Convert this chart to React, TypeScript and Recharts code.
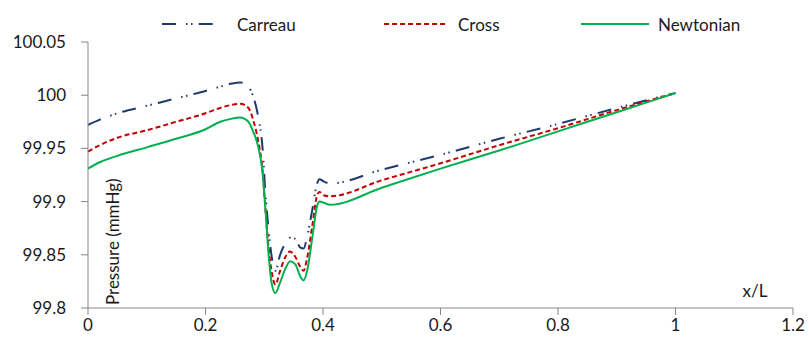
import { LineChart, Line, XAxis, YAxis, Legend, Label } from 'recharts';

// x/L positions along the vessel
const xValues = [0, 0.02, 0.05, 0.1, 0.15, 0.2, 0.225, 0.245, 0.259, 0.273, 0.281, 0.29, 0.297, 0.302, 0.307, 0.313, 0.319, 0.327, 0.336, 0.344, 0.353, 0.361, 0.367, 0.373, 0.382, 0.39, 0.394, 0.401, 0.412, 0.5, 0.6, 0.7, 0.8, 0.9, 1.0];

// pressure (mmHg) for each model
const carreau = [99.972, 99.977, 99.983, 99.99, 99.997, 100.004, 100.008, 100.011, 100.012, 100.008, 99.999, 99.979, 99.951, 99.908, 99.876, 99.847, 99.835, 99.85, 99.861, 99.866, 99.865, 99.857, 99.856, 99.867, 99.893, 99.917, 99.921, 99.919, 99.917, 99.93, 99.944, 99.959, 99.973, 99.988, 100.002];
const cross = [99.947, 99.953, 99.96, 99.967, 99.975, 99.983, 99.988, 99.991, 99.992, 99.988, 99.977, 99.956, 99.93, 99.893, 99.859, 99.833, 99.822, 99.835, 99.848, 99.853, 99.848, 99.839, 99.835, 99.847, 99.878, 99.906, 99.909, 99.906, 99.905, 99.92, 99.936, 99.953, 99.969, 99.986, 100.002];
const newtonian = [99.931, 99.937, 99.943, 99.951, 99.959, 99.968, 99.975, 99.978, 99.979, 99.975, 99.966, 99.951, 99.928, 99.893, 99.853, 99.822, 99.814, 99.824, 99.837, 99.844, 99.841, 99.83, 99.826, 99.835, 99.867, 99.896, 99.9, 99.899, 99.897, 99.913, 99.931, 99.948, 99.966, 99.984, 100.002];

const xTicks = [0, 0.2, 0.4, 0.6, 0.8, 1, 1.2];
const yTicks = [99.8, 99.85, 99.9, 99.95, 100, 100.05];

const data = xValues.map((x, i) => ({
  x,
  carreau: carreau[i],
  cross: cross[i],
  newtonian: newtonian[i],
}));

const font = 'Lato, "Open Sans", sans-serif';
const axisColor = '#868686';
const textColor = '#1a1a1a';

// legend placement (left edge of each sample line)
const legendLeft = [162, 384, 581];
const legendSample = [56, 64, 68];
const legendGap = [19, 10, 9];

function LegendContent(props: any) {
  const { payload } = props;
  return (
    <div style={{ position: 'relative', height: 24, fontFamily: font, fontSize: 17, color: textColor }}>
      {payload.map((entry: any, i: number) => (
        <div key={entry.value} style={{ position: 'absolute', left: legendLeft[i], top: 0, display: 'flex', alignItems: 'center', height: 24 }}>
          <svg width={legendSample[i]} height={6} style={{ marginRight: legendGap[i] }}>
            <line
              x1={0}
              y1={3}
              x2={legendSample[i]}
              y2={3}
              stroke={entry.color}
              strokeWidth={2}
              strokeDasharray={entry.payload?.strokeDasharray}
            />
          </svg>
          <span>{entry.value}</span>
        </div>
      ))}
    </div>
  );
}

function YTitle(props: any) {
  const { viewBox } = props;
  const x = viewBox.x + viewBox.width + 24;
  const y = viewBox.y + viewBox.height - 3;
  return (
    <text x={x} y={y} transform={`rotate(-90 ${x} ${y})`} textAnchor="start" dominantBaseline="central" fontFamily={font} fontSize={17} fill={textColor}>
      Pressure (mmHg)
    </text>
  );
}

function XTitle(props: any) {
  const { viewBox } = props;
  const x = viewBox.x + viewBox.width - 38;
  const y = viewBox.y - 18;
  return (
    <text x={x} y={y} textAnchor="middle" dominantBaseline="central" fontFamily={font} fontSize={17} fill={textColor}>
      x/L
    </text>
  );
}

export default function App() {
  return (
    <div style={{ position: 'absolute', left: 0, top: 0, background: '#fff' }}>
      <LineChart width={809} height={356} data={data} margin={{ top: 18, right: 16, bottom: 0, left: 0 }}>
        <XAxis
          dataKey="x"
          type="number"
          domain={[0, 1.2]}
          ticks={xTicks}
          height={48}
          tickSize={7}
          tickMargin={4}
          stroke={axisColor}
          tick={{ fill: textColor, fontFamily: font, fontSize: 17 }}
          tickFormatter={(v: number) => String(Number(v.toFixed(1)))}
        >
          <Label content={<XTitle />} />
        </XAxis>
        <YAxis
          type="number"
          domain={[99.8, 100.05]}
          ticks={yTicks}
          width={88}
          tickSize={7}
          tickMargin={15}
          stroke={axisColor}
          tick={{ fill: textColor, fontFamily: font, fontSize: 17 }}
          tickFormatter={(v: number) => String(Number(v.toFixed(2)))}
        >
          <Label content={<YTitle />} />
        </YAxis>
        <Legend verticalAlign="top" content={<LegendContent />} wrapperStyle={{ top: 12, left: 0, width: 809 }} />
        <Line
          type="monotone"
          dataKey="carreau"
          name="Carreau"
          stroke="#1F3A6E"
          strokeWidth={2}
          strokeDasharray="14 10 1.5 3.5 1.5 6.2"
          dot={false}
          isAnimationActive={false}
        />
        <Line
          type="monotone"
          dataKey="cross"
          name="Cross"
          stroke="#C00000"
          strokeWidth={2}
          strokeDasharray="5 3"
          dot={false}
          isAnimationActive={false}
        />
        <Line
          type="monotone"
          dataKey="newtonian"
          name="Newtonian"
          stroke="#00B050"
          strokeWidth={2}
          dot={false}
          isAnimationActive={false}
        />
      </LineChart>
    </div>
  );
}
